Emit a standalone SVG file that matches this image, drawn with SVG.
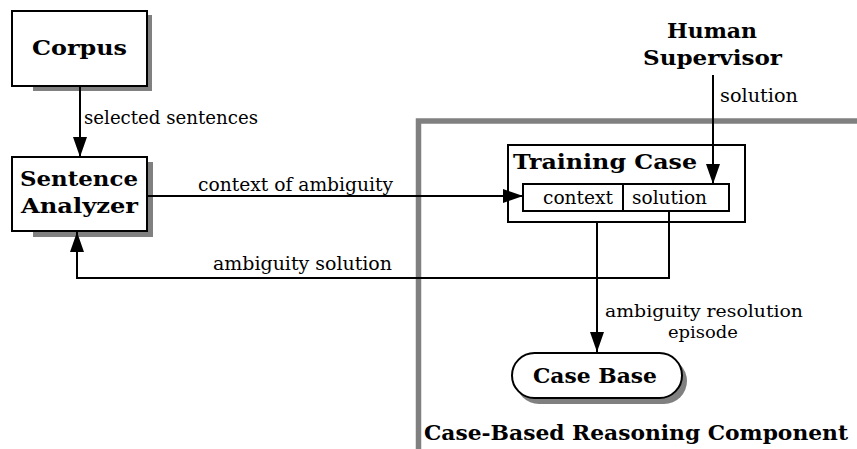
<svg xmlns="http://www.w3.org/2000/svg" width="857" height="449" viewBox="0 0 857 449">
<defs>
<marker id="ah" markerUnits="userSpaceOnUse" markerWidth="22" markerHeight="16" refX="20" refY="7" orient="auto">
<path d="M0,0 L20,7 L0,14 Z" fill="#000"/>
</marker>
<style>
.box{fill:#fff;stroke:#000;stroke-width:2}
.shadow{fill:#808080}
.c{fill:none;stroke:#000;stroke-width:2}
</style>
</defs>
<rect width="857" height="449" fill="#fff"/>
<g font-family="'DejaVu Serif', 'Liberation Serif', serif" fill="#000">
<g id="frame">
<path d="M418.5,449 V121 H857" fill="none" stroke="#808080" stroke-width="5.5"/>
<text font-weight="bold" font-size="21" x="424" y="440" textLength="424" lengthAdjust="spacingAndGlyphs">Case-Based Reasoning Component</text>
</g>
<g id="corpus">
<rect class="shadow" x="33" y="15" width="119" height="76"/>
<rect class="box" x="12" y="11" width="135" height="75"/>
<text font-weight="bold" font-size="21" x="32" y="55" textLength="95" lengthAdjust="spacingAndGlyphs">Corpus</text>
</g>
<g id="sentence-analyzer">
<rect class="shadow" x="33" y="162" width="120" height="75"/>
<rect class="box" x="12" y="157" width="135" height="74"/>
<text font-weight="bold" font-size="21" x="20" y="186" textLength="118" lengthAdjust="spacingAndGlyphs">Sentence</text>
<text font-weight="bold" font-size="21" x="21" y="213" textLength="117" lengthAdjust="spacingAndGlyphs">Analyzer</text>
</g>
<g id="human-supervisor">
<text font-weight="bold" font-size="21" x="667" y="38" textLength="90" lengthAdjust="spacingAndGlyphs">Human</text>
<text font-weight="bold" font-size="21" x="643" y="65" textLength="139" lengthAdjust="spacingAndGlyphs">Supervisor</text>
</g>
<g id="training-case">
<rect class="box" x="508" y="145" width="237" height="77"/>
<text font-weight="bold" font-size="21" x="513" y="169" textLength="184" lengthAdjust="spacingAndGlyphs">Training Case</text>
<rect class="box" x="523" y="184" width="206" height="27"/>
<line x1="623" y1="184" x2="623" y2="211" stroke="#000" stroke-width="2"/>
<text font-size="18" x="543" y="204" textLength="70" lengthAdjust="spacingAndGlyphs">context</text>
<text font-size="18" x="632" y="204" textLength="75" lengthAdjust="spacingAndGlyphs">solution</text>
</g>
<g id="case-base">
<rect class="shadow" x="516" y="358" width="171" height="46" rx="23"/>
<rect class="box" x="512" y="353" width="170" height="45" rx="22.5"/>
<text font-weight="bold" font-size="21" x="533" y="383" textLength="124" lengthAdjust="spacingAndGlyphs">Case Base</text>
</g>
<g id="connectors">
<line class="c" x1="80" y1="87" x2="80" y2="157" marker-end="url(#ah)"/>
<text font-size="18" x="84" y="124" textLength="174" lengthAdjust="spacingAndGlyphs">selected sentences</text>
<line class="c" x1="147" y1="196" x2="523" y2="196" marker-end="url(#ah)"/>
<text font-size="18" x="198" y="191" textLength="195" lengthAdjust="spacingAndGlyphs">context of ambiguity</text>
<line class="c" x1="713" y1="75" x2="713" y2="184" marker-end="url(#ah)"/>
<text font-size="18" x="720" y="102" textLength="78" lengthAdjust="spacingAndGlyphs">solution</text>
<line class="c" x1="597" y1="222" x2="597" y2="352" marker-end="url(#ah)"/>
<text font-size="17" x="605" y="317" textLength="198" lengthAdjust="spacingAndGlyphs">ambiguity resolution</text>
<text font-size="17" x="668" y="338" textLength="70" lengthAdjust="spacingAndGlyphs">episode</text>
<polyline class="c" points="669,211 669,278 77,278 77,232" marker-end="url(#ah)"/>
<text font-size="18" x="213" y="270" textLength="179" lengthAdjust="spacingAndGlyphs">ambiguity solution</text>
</g>
</g>
</svg>
